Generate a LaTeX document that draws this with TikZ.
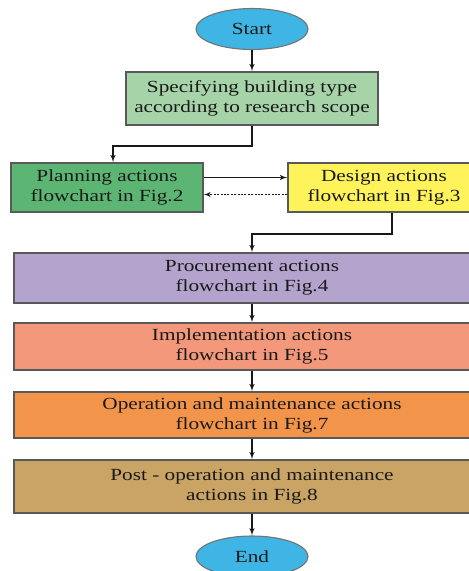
\documentclass[tikz,border=0pt]{standalone}
\usepackage{fontspec}
\setmainfont{Liberation Serif}[FakeStretch=1.25]
\usetikzlibrary{shapes,arrows,positioning}
\definecolor{startblue}{HTML}{3FB5E5}
\definecolor{specgreen}{HTML}{A6D4A8}
\definecolor{plangreen}{HTML}{5DB574}
\definecolor{designyellow}{HTML}{FFF35C}
\definecolor{proclav}{HTML}{B3A3CD}
\definecolor{implsalmon}{HTML}{F4987B}
\definecolor{operorange}{HTML}{F3944B}
\definecolor{posttan}{HTML}{C9A465}
\tikzstyle{block} = [rectangle, draw=black!65, line width=1.6pt, text=black!90,
    align=center, inner sep=0pt, minimum width=192pt]
\tikzstyle{wide} = [block, minimum width=476pt]
\tikzstyle{cloud} = [draw=black!55, line width=1.1pt, ellipse, fill=startblue,
    minimum width=112pt, minimum height=41pt, inner sep=0pt, text=black!90]
\tikzstyle{line} = [draw, black!90, line width=1.5pt, -latex']
\tikzstyle{back} = [draw, black!90, line width=1.3pt, dash pattern=on 2pt off 1.4pt, -latex']
\tikzstyle{every node}=[font=\fontsize{17}{20}\selectfont]

\begin{document}
\begin{tikzpicture}[x=1pt, y=-1pt]
    \useasboundingbox (0,0) rectangle (469,571);
    \clip (0,0) rectangle (469,571);
    % Place nodes
    \node [cloud] (start) at (252,29) {Start};
    \node [block, fill=specgreen, below of=start, node distance=69.5pt, minimum width=252pt, minimum height=53pt] (spec) {Specifying building type\\according to research scope};
    \node [block, fill=plangreen, below of=spec, node distance=89pt, xshift=-145pt, minimum height=49pt] (plan) {Planning actions\\flowchart in Fig.2};
    \node [block, fill=designyellow, right of=plan, node distance=277pt, minimum height=49pt] (design) {Design actions\\flowchart in Fig.3};
    \node [wide, fill=proclav, below of=spec, node distance=179.5pt, minimum height=50pt] (proc) {Procurement actions\\flowchart in Fig.4};
    \node [wide, fill=implsalmon, below of=proc, node distance=68.5pt, minimum height=47pt] (impl) {Implementation actions\\flowchart in Fig.5};
    \node [wide, fill=operorange, below of=impl, node distance=68.5pt, minimum height=46pt] (oper) {Operation and maintenance actions\\flowchart in Fig.7};
    \node [wide, fill=posttan, below of=oper, node distance=71.5pt, minimum height=53pt] (post) {Post - operation and maintenance\\actions in Fig.8};
    \node [cloud, below of=post, node distance=70pt] (end) {End};

    % Draw edges
    \path [line] (start) -- (spec);
    \path [line] (spec.south) -- ++(0,20) -| ([xshift=6pt]plan.north);
    \path [line] ([yshift=10pt]plan.east) -- ([yshift=10pt]design.west);
    \path [back] ([yshift=-7pt]design.west) -- ([yshift=-7pt]plan.east);
    \path [line] ([xshift=8pt]design.south) -- ++(0,21) -| (proc.north);
    \path [line] (proc) -- (impl);
    \path [line] (impl) -- (oper);
    \path [line] (oper) -- (post);
    \path [line] (post) -- (end);
\end{tikzpicture}
\end{document}
